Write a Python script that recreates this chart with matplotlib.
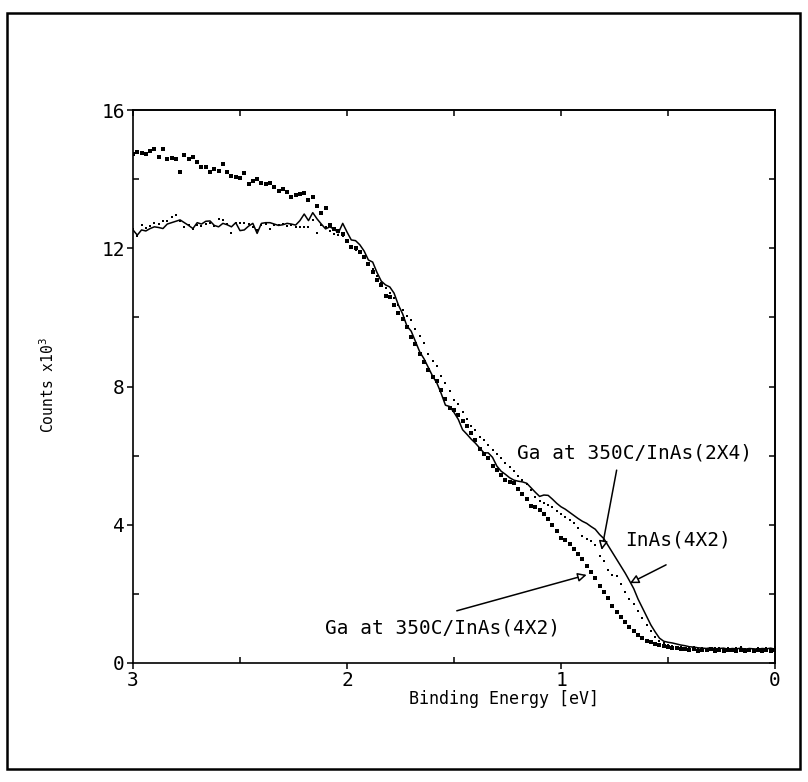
import numpy as np
import matplotlib
matplotlib.use("Agg")
import matplotlib.pyplot as plt
from matplotlib.patches import Rectangle
from matplotlib.ticker import MultipleLocator

# ---------------- data ----------------
# binding energy grid (eV), 3.00 -> 0.00 in 0.02 eV steps
energy = np.linspace(3.0, 0.0, 151)

# InAs(4X2) : solid line (counts x10^3)
inas_4x2 = [
    12.53, 12.38, 12.53, 12.50, 12.57, 12.62, 12.60, 12.57, 12.70, 12.74,
    12.78, 12.82, 12.74, 12.66, 12.57, 12.74, 12.70, 12.78, 12.79, 12.66,
    12.62, 12.72, 12.68, 12.62, 12.74, 12.51, 12.53, 12.64, 12.72, 12.43,
    12.72, 12.74, 12.74, 12.70, 12.66, 12.68, 12.72, 12.70, 12.67, 12.80,
    12.99, 12.80, 13.03, 12.85, 12.70, 12.56, 12.62, 12.55, 12.45, 12.72,
    12.47, 12.24, 12.22, 12.10, 11.92, 11.66, 11.60, 11.30, 11.05, 10.94,
    10.88, 10.70, 10.36, 10.10, 9.75, 9.60, 9.30, 9.00, 8.80, 8.55,
    8.30, 8.10, 7.80, 7.46, 7.42, 7.25, 7.05, 6.75, 6.62, 6.48,
    6.36, 6.22, 6.08, 6.08, 5.95, 5.70, 5.55, 5.46, 5.36, 5.29,
    5.26, 5.24, 5.20, 5.07, 4.94, 4.82, 4.86, 4.85, 4.74, 4.62,
    4.52, 4.45, 4.36, 4.27, 4.18, 4.10, 4.04, 3.95, 3.87, 3.72,
    3.60, 3.40, 3.20, 3.00, 2.80, 2.60, 2.38, 2.15, 1.85, 1.60,
    1.35, 1.10, 0.90, 0.72, 0.63, 0.60, 0.58, 0.55, 0.52, 0.50,
    0.47, 0.46, 0.44, 0.43, 0.42, 0.44, 0.41, 0.42, 0.43, 0.40,
    0.42, 0.41, 0.43, 0.40, 0.42, 0.41, 0.40, 0.42, 0.41, 0.43, 0.40,
]

# Ga at 350C/InAs(2X4) : fine dots
ga_2x4 = [
    12.57, 12.35, 12.67, 12.60, 12.64, 12.74, 12.70, 12.78, 12.80, 12.91,
    12.96, 12.80, 12.62, 12.66, 12.55, 12.68, 12.64, 12.70, 12.72, 12.64,
    12.86, 12.82, 12.70, 12.45, 12.74, 12.74, 12.72, 12.70, 12.62, 12.53,
    12.66, 12.70, 12.57, 12.68, 12.66, 12.70, 12.64, 12.68, 12.62, 12.62,
    12.62, 12.62, 12.82, 12.43, 12.67, 12.62, 12.49, 12.40, 12.38, 12.34,
    12.19, 12.05, 11.95, 11.85, 11.72, 11.55, 11.40, 11.20, 11.00, 10.85,
    10.70, 10.55, 10.36, 10.22, 10.05, 9.92, 9.65, 9.45, 9.27, 8.95,
    8.75, 8.59, 8.30, 8.09, 7.86, 7.62, 7.49, 7.27, 7.06, 6.86,
    6.74, 6.54, 6.46, 6.31, 6.15, 6.05, 5.92, 5.80, 5.68, 5.55,
    5.41, 5.30, 5.18, 5.00, 4.80, 4.70, 4.64, 4.56, 4.50, 4.40,
    4.30, 4.22, 4.14, 4.05, 3.90, 3.68, 3.58, 3.52, 3.40, 3.10,
    2.95, 2.70, 2.55, 2.52, 2.30, 2.05, 1.85, 1.70, 1.50, 1.30,
    1.10, 0.92, 0.75, 0.64, 0.57, 0.52, 0.50, 0.47, 0.45, 0.44,
    0.42, 0.45, 0.40, 0.43, 0.41, 0.38, 0.44, 0.42, 0.40, 0.43,
    0.39, 0.42, 0.45, 0.40, 0.41, 0.38, 0.43, 0.40, 0.44, 0.41, 0.46,
]

# Ga at 350C/InAs(4X2) : heavy dots
ga_4x2 = [
    14.73, 14.78, 14.76, 14.74, 14.82, 14.86, 14.63, 14.86, 14.57, 14.61,
    14.57, 14.20, 14.69, 14.57, 14.65, 14.49, 14.36, 14.36, 14.22, 14.28,
    14.24, 14.45, 14.22, 14.09, 14.07, 14.03, 14.17, 13.86, 13.94, 14.01,
    13.88, 13.86, 13.90, 13.76, 13.66, 13.72, 13.64, 13.47, 13.53, 13.57,
    13.61, 13.39, 13.47, 13.22, 13.03, 13.16, 12.67, 12.55, 12.49, 12.40,
    12.20, 12.05, 12.00, 11.90, 11.75, 11.55, 11.32, 11.08, 10.94, 10.62,
    10.60, 10.35, 10.12, 9.95, 9.73, 9.44, 9.23, 8.95, 8.70, 8.48,
    8.28, 8.15, 7.90, 7.65, 7.37, 7.32, 7.17, 7.00, 6.85, 6.66,
    6.45, 6.20, 6.05, 5.92, 5.70, 5.58, 5.45, 5.30, 5.25, 5.22,
    5.02, 4.90, 4.75, 4.55, 4.50, 4.42, 4.30, 4.18, 4.00, 3.82,
    3.62, 3.55, 3.45, 3.30, 3.15, 3.00, 2.80, 2.62, 2.45, 2.22,
    2.06, 1.88, 1.66, 1.48, 1.34, 1.20, 1.04, 0.92, 0.80, 0.72,
    0.65, 0.60, 0.55, 0.52, 0.49, 0.46, 0.44, 0.42, 0.40, 0.41,
    0.38, 0.40, 0.36, 0.39, 0.37, 0.40, 0.35, 0.38, 0.36, 0.39,
    0.37, 0.35, 0.38, 0.36, 0.39, 0.34, 0.37, 0.36, 0.38, 0.35, 0.37,
]

labels = ["Ga at 350C/InAs(2X4)", "InAs(4X2)", "Ga at 350C/InAs(4X2)"]
x_ticks = [3, 2, 1, 0]
y_ticks = [0, 4, 8, 12, 16]

# ---------------- figure ----------------
plt.rcParams["font.family"] = ["DejaVu Sans Mono", "DejaVu Sans"]

W, H = 808, 782
fig = plt.figure(figsize=(W / 100, H / 100), dpi=100)
fig.patch.set_facecolor("white")

# outer frame
fig.patches.append(Rectangle((7 / W, 1 - 769 / H), (800 - 7) / W, (769 - 13) / H,
                             transform=fig.transFigure, fill=False,
                             edgecolor="black", linewidth=1.8))

ax = fig.add_axes([133 / W, 1 - 663 / H, (775 - 133) / W, (663 - 110) / H])
ax.set_xlim(3, 0)
ax.set_ylim(0, 16)

ax.plot(energy, ga_4x2, linestyle="none", marker="s", markersize=2.4,
        color="black", markeredgewidth=0)
ax.plot(energy, ga_2x4, linestyle="none", marker="s", markersize=1.6,
        color="black", markeredgewidth=0)
ax.plot(energy, inas_4x2, color="black", linewidth=1.1)

for s in ax.spines.values():
    s.set_linewidth(1.2)

ax.set_xticks(x_ticks)
ax.set_xticklabels([str(v) for v in x_ticks])
ax.set_yticks(y_ticks)
ax.set_yticklabels([str(v) for v in y_ticks])
ax.xaxis.set_minor_locator(MultipleLocator(0.5))
ax.yaxis.set_minor_locator(MultipleLocator(2))
ax.tick_params(which="major", direction="out", length=4, width=1.1,
               labelsize=14, pad=2)
ax.tick_params(which="minor", direction="in", length=4, width=1.1)

secx = ax.secondary_xaxis("top")
secx.set_xticks(np.arange(0, 3.01, 0.5))
secx.tick_params(direction="in", length=4, width=1.1, labeltop=False)
secx.spines["top"].set_linewidth(1.2)
secy = ax.secondary_yaxis("right")
secy.set_yticks(np.arange(0, 16.1, 2))
secy.tick_params(direction="in", length=4, width=1.1, labelright=False)
secy.spines["right"].set_linewidth(1.2)

# axis labels
ax.text(0.578, -0.066, "Binding Energy [eV]", transform=ax.transAxes,
        ha="center", va="center", fontsize=12)
ax.text(-0.1324, 0.416, r"Counts x10$^3$", transform=ax.transAxes,
        rotation=90, ha="center", va="bottom", fontsize=10.5)

# annotations
arrow = dict(arrowstyle="-|>", fc="white", ec="black", lw=1.1,
             mutation_scale=13, shrinkA=0, shrinkB=0)
ax.annotate("", xy=(0.810, 3.27), xytext=(0.740, 5.58), arrowprops=arrow)
ax.annotate("", xy=(0.678, 2.31), xytext=(0.509, 2.84), arrowprops=arrow)
ax.annotate("", xy=(0.880, 2.55), xytext=(1.487, 1.51), arrowprops=arrow)

ax.text(1.206, 6.07, labels[0], ha="left", va="center", fontsize=14)
ax.text(0.701, 3.56, labels[1], ha="left", va="center", fontsize=14)
ax.text(2.103, 1.01, labels[2], ha="left", va="center", fontsize=14)

fig.savefig("out.png", dpi=100, facecolor="white")
